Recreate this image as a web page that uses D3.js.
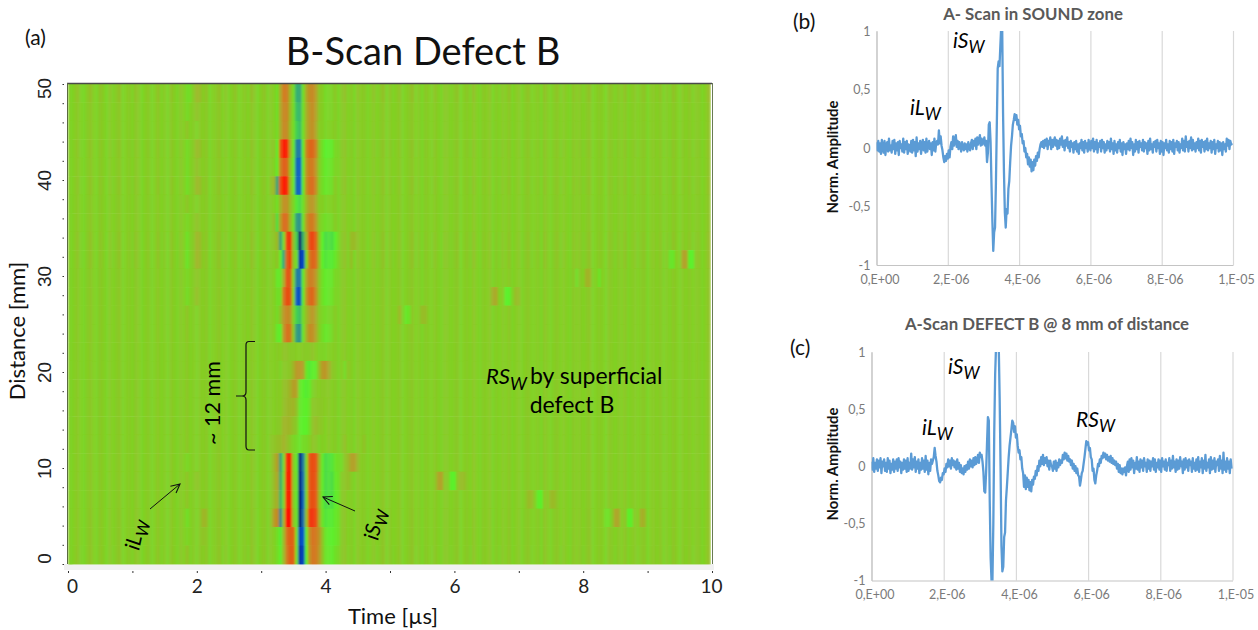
<!DOCTYPE html>
<html>
<head>
<meta charset="utf-8">
<script src="https://d3js.org/d3.v7.min.js"></script>
<style>
	html, body { margin: 0; background: #fff; }
	svg { display: block; font-family: Lato, "Open Sans", sans-serif; }
	.plot-tick text { font-size: 12.5px; fill: #7a7a7a; font-family: Lato, sans-serif; }
	.scan-tick text { font-size: 19px; fill: #222; }
	.scan-tick line { stroke: #333; }
</style>
</head>
<body>
<svg id="fig" width="1258" height="630"></svg>
<script>
'use strict'

// B-scan: 26 rows of 23 amplitudes (x100) around the iSw pulse, top row first
let pulse_times = d3.range(23).map(n => 3.1 + n * 0.05)
let pulse_rows = [
	[0,0,0,-10,20,38,38,12,-8,-40,-42,-12,18,32,32,22,5,0,-5,-5,-2,0,0],
	[0,0,0,-10,20,32,35,12,-8,-35,-38,-12,15,28,30,20,5,0,-4,-4,-2,0,0],
	[0,0,0,-8,18,32,32,10,-8,-30,-35,-12,15,28,28,18,3,0,-3,-3,0,0,0],
	[0,0,5,-18,60,85,82,20,-15,-55,-62,-20,35,50,48,35,5,-10,-18,-18,-14,-5,0],
	[0,0,0,-16,38,52,50,10,-15,-65,-72,-20,28,40,38,25,3,-8,-14,-14,-10,-3,0],
	[0,5,12,-45,65,88,80,15,-15,-65,-72,-20,30,45,45,30,3,-8,-12,-12,-8,0,0],
	[0,0,0,-10,15,28,30,12,-5,-22,-25,-12,12,25,25,15,2,0,-3,-3,0,0,0],
	[0,0,8,-25,25,45,45,15,-10,-45,-50,-15,25,40,38,25,3,-5,-8,-8,-5,0,0],
	[0,0,5,10,-42,-8,65,78,5,-30,-100,-40,10,60,65,50,8,-18,-25,-25,-25,-20,-5],
	[0,0,0,5,-15,-45,50,70,5,-10,-85,-80,-5,40,50,45,10,-18,-22,-22,-20,-14,0],
	[0,0,0,-15,-10,15,58,55,-5,-55,-62,-18,20,38,35,25,5,-10,-14,-15,-12,-5,0],
	[0,0,0,-10,-5,40,62,58,-5,-70,-78,-20,28,48,48,30,5,-10,-14,-14,-10,-3,0],
	[0,0,0,-8,8,25,35,30,-3,-30,-35,-10,10,22,25,15,3,-4,-6,-6,-3,0,0],
	[0,0,0,-15,-15,25,45,42,0,-45,-50,-15,15,32,28,18,2,-8,-12,-12,-5,0,0],
	[0,0,0,0,3,3,5,3,0,0,2,0,2,3,3,0,0,-2,-3,-2,0,0,0],
	[0,0,0,0,0,0,3,5,12,25,28,20,-12,-20,-20,-15,10,25,28,15,5,0,0],
	[0,0,0,0,3,5,8,15,22,20,-10,-20,-20,-15,-5,0,2,3,3,2,0,0,0],
	[0,0,0,0,3,5,10,12,12,5,-12,-18,-18,-10,0,3,5,3,2,0,0,0,0],
	[0,0,0,0,5,10,12,12,5,0,-15,-20,-18,-8,3,8,6,3,0,0,0,0,0],
	[0,3,5,6,10,12,8,3,-5,-8,-10,-8,-5,0,3,3,0,0,0,0,0,0,0],
	[0,0,12,22,-42,-8,75,85,0,-15,-95,-60,-5,55,62,58,15,-15,-25,-25,-22,-12,-5],
	[0,0,10,18,-38,-5,80,85,0,-12,-95,-65,-5,55,60,55,12,-15,-25,-25,-25,-15,-8],
	[0,0,10,15,-35,-5,80,85,0,-15,-98,-70,-5,55,60,55,12,-15,-25,-25,-25,-18,-10],
	[0,3,25,32,-50,10,92,92,5,-12,-100,-65,5,68,72,62,18,-12,-22,-22,-20,-15,-8],
	[0,0,0,-10,-18,8,45,55,48,-10,-80,-75,-15,30,42,40,30,5,-12,-18,-18,-15,-8],
	[0,0,0,-8,-15,8,40,55,50,-10,-85,-82,-18,28,40,40,28,5,-10,-15,-15,-10,-3],
]

// [row, time us, amplitude x100] for the faint echoes away from the pulse
let echoes = [
	[0,1.85,-7],[0,1.9,-6],[0,2,11],[0,2.05,9],[1,1.85,-5],[1,2,6],[3,1.85,-6],[3,2,10],[3,2.05,8],[4,1.85,-7],[4,2,7],
	[5,1.85,-8],[5,2,11],[5,2.05,9],[7,1.85,-4],[7,2,6],[8,1.85,-10],[8,2,12],[8,2.05,10],
	[9,1.85,-11],[9,2,13],[9,2.05,10],[10,1.85,-4],[10,2,5],[11,1.85,-6],[11,2,8],
	[20,1.85,-4],[21,2,5],[23,1.85,-8],[23,2.1,13],[23,2.15,10],[24,1.85,-3],[24,2.1,6],
	[8,4.4,10],[8,4.45,10],[9,4.4,8],[20,4.35,10],[20,4.4,22],[20,4.45,22],[20,4.5,10],[21,4.35,7],
	[9,9.35,-12],[9,9.4,-12],[9,9.55,22],[9,9.6,20],[9,9.65,-18],[9,9.7,-18],
	[10,7.9,-8],[10,8.05,14],[10,8.1,14],[10,8.25,-10],
	[11,6.6,16],[11,6.65,18],[11,6.8,-18],[11,6.85,-18],[11,6.95,9],[11,7,9],
	[12,5.15,12],[12,5.25,-13],[12,5.3,-10],[12,5.5,9],[12,5.55,9],
	[21,5.75,20],[21,5.8,22],[21,5.95,-18],[21,6,-18],[21,6.1,9],[21,6.15,9],
	[22,7.15,10],[22,7.2,10],[22,7.3,-16],[22,7.35,-18],[22,7.5,10],[22,7.55,10],
	[23,8.35,-9],[23,8.4,-9],[23,8.5,20],[23,8.55,18],[23,8.7,-18],[23,8.75,-16],[23,8.9,16],[23,8.95,14],
	[15,4.3,-6],[15,4.35,5],[3,4.5,4],[19,4.3,8],[19,4.6,7],[20,4.2,-8],[20,4.25,-6],
]

// per column streak of the background, 200 columns of 0.05 us (x100)
let streaks = [
	3,-2,1,4,-1,-3,2,5,0,-2,4,1,-3,3,-1,2,5,-2,0,3,
	-1,4,2,-3,1,3,-2,0,5,-1,2,-3,4,1,-2,3,0,6,-1,2,
	-2,3,1,4,-3,0,2,5,-1,3,-2,1,4,-2,0,3,-1,5,2,-3,
	1,4,-2,2,0,3,-3,5,1,-1,3,2,-2,4,0,-1,5,2,-2,1,
	-1,4,0,3,-3,2,5,-1,2,-3,4,1,3,-2,0,4,-1,2,5,-2,
	3,-1,1,4,-2,0,3,5,-1,2,-3,3,1,-1,4,0,-2,3,2,-1,
	2,4,-3,1,3,-1,5,0,-2,3,1,4,-3,2,-1,3,0,5,-2,1,
	3,-2,2,4,-1,0,3,-3,5,1,-2,2,4,-1,3,0,-2,4,1,3,
	-1,2,5,-2,0,3,1,-3,4,2,-1,3,0,5,-2,1,3,-1,2,4,
	-3,1,3,0,4,-2,2,-1,5,1,-2,3,0,4,-1,2,3,-2,1,6,
]
// how strong the streaks come out on each row
let row_gain = [1.5,1,1,1.2,1,1.3,.9,1,1.4,1.4,.9,1,1,1,.8,.8,.9,.9,.9,.9,1,1,1,1.1,1.1,1.2]

// color stops of the B-scan palette, from trough to crest
let amp_stops = [-1, -.75, -.5, -.32, -.18, 0, .2, .45, .7, .92]
let amp_colors = ['#00006e', '#0050d2', '#2a8f8a', '#3cc85a', '#5cf02c',
	'#82d024', '#b0a62a', '#d8701c', '#f03a0c', '#ff1000']

let scan_x_ticks = d3.range(0, 11), scan_y_ticks = d3.range(0, 51, 2)

// A-scans, amplitude x100, one list per microsecond
let sound_trace = [
	[5,-2,6,-3,4,-5,7,0,-4,6,-6,3,5,-3,8,-2,2,-4,6,-1,7,-5,4,-2,5,-6,6,0,3,-3,8,-4,5,-1,6,-5,3,2,-3,6],
	[-4,7,-2,5,-7,9,-3,4,-1,6,-5,3,7,-2,5,-4,8,-3,2,6,-1,4,-6,5,-2,8,-3,4,6,3,15,4,10,2,-2,-8,-12,-7,-11,-5],
	[-9,-2,-8,1,5,-1,10,2,7,11,1,6,-1,5,2,-3,5,0,-2,4,-1,3,-3,5,0,-2,4,7,-1,6,2,8,-1,9,3,7,11,2,8,3],
	[5,9,2,6,-12,-4,20,22,5,-30,-62,-88,-72,-68,-30,20,68,74,70,88,105,105,30,-20,-55,-68,-52,-56,-35,-28,-12,2,10,20,24,29,24,28,20,24],
	[16,19,10,12,4,6,-3,0,-8,-5,-14,-8,-16,-10,-20,-12,-19,-10,-15,-7,-11,-4,-8,-1,3,5,1,6,0,7,2,8,-1,6,3,9,-1,7,1,6],
	[9,2,7,-1,6,0,8,3,10,1,6,-2,7,2,9,0,5,-3,6,1,4,-4,5,-1,6,-3,3,-5,4,0,7,-2,5,-4,6,0,4,-3,7,1],
	[-2,6,0,8,-3,5,-1,7,-4,4,1,6,-3,7,0,5,-4,3,-2,6,0,5,-3,8,-1,4,-5,6,-2,3,-4,5,0,7,-3,4,-6,5,-1,3],
	[-5,4,-1,6,-2,8,0,5,-6,3,-3,7,-1,5,-4,6,1,4,-2,7,-3,5,0,4,-5,6,-2,8,-1,3,-4,5,1,6,-3,7,0,4,-5,6],
	[-3,5,-6,4,0,7,-2,3,-4,6,-1,5,-3,7,-5,4,1,6,-2,5,-4,3,0,8,-2,6,-3,10,1,5,-3,6,0,9,-2,7,-1,4,-3,5],
	[0,8,-2,6,-4,7,1,5,-3,6,-1,8,-2,4,0,6,-4,5,-1,7,-5,3,0,6,-3,5,-2,4,-6,5,-1,3,-3,8,2,7,-1,6,3,4],
]
let defect_trace = [
	[4,-3,7,-5,3,-2,6,-4,5,-1,7,-6,4,0,6,-4,3,-5,7,-2,5,-6,2,-3,6,-5,4,-2,6,-4,7,-1,4,-6,3,-3,6,-2,5,-5],
	[7,-4,3,-2,11,-3,6,-1,8,-5,4,-2,6,-6,3,-3,7,-2,5,-5,9,-3,5,-7,3,-4,6,2,5,8,16,9,4,-4,-8,-13,-14,-10,-12,-6],
	[-7,-2,-5,2,-1,6,0,5,-2,7,1,5,-1,4,-3,6,-2,3,-5,1,-6,-2,-7,0,-5,1,-3,4,-2,6,0,5,-1,7,1,8,2,5,10,3],
	[12,8,10,4,-5,-22,-23,-5,20,43,40,-30,-80,-100,-100,-50,30,80,105,110,110,105,60,0,-70,-92,-88,-62,-58,-30,-18,-5,8,18,25,32,40,38,30,35],
	[25,28,18,12,14,6,8,-2,-6,-18,-8,-20,-10,-18,-12,-21,-14,-22,-12,-16,-9,-11,-4,-8,0,-4,5,0,8,2,10,1,7,3,8,0,5,-3,5,1],
	[0,-4,4,-2,5,-4,3,-1,6,1,5,3,10,6,12,7,11,5,9,4,6,1,5,-2,2,-4,0,-6,-2,-8,-9,-17,-12,-6,-4,2,8,15,22,19],
	[21,14,16,8,6,-4,-2,-12,-15,-8,-4,2,0,6,3,9,7,12,8,11,6,10,5,8,4,9,3,7,2,5,1,4,-2,2,-5,1,-6,-2,-7,-2],
	[-5,-1,-8,0,4,-5,6,-3,7,-1,5,-6,3,-2,8,-3,4,-5,6,-1,5,-4,7,0,3,-5,6,-2,5,-4,4,0,7,-3,6,-5,3,-1,6,-3],
	[5,-5,7,0,4,-3,6,-4,3,1,7,-4,5,-2,9,-1,4,-5,6,-3,5,-2,8,0,4,-6,6,-3,7,-1,5,-4,6,1,4,-5,7,-2,3,-4],
	[6,-3,8,-5,4,-1,7,-6,5,-2,10,-4,3,-1,6,-6,8,-3,5,-2,7,-5,4,1,6,-4,9,-2,5,-6,12,-3,4,-5,7,-2,4,-6,6,-2],
]

let amp_ticks = [-1, -.5, 0, .5, 1], amp_labels = ['-1', '-0,5', '0', '0,5', '1']
let time_ticks = [0, 2, 4, 6, 8, 10], time_labels = ['0,E+00', '2,E-06', '4,E-06', '6,E-06', '8,E-06', '1,E-05']


let svg = d3.select('#fig')
let defs = svg.append('defs')
defs.append('filter').attr('id', 'soft')
		.attr('x', 0).attr('y', 0).attr('width', 1).attr('height', 1)
	.append('feGaussianBlur').attr('stdDeviation', '0.9 0.25')

// text with a subscript, as the hand placed labels of the figure
let sub_label = (s, x, y, main, sub, size=21, rot=0) => s.append('text')
	.attr('transform', `translate(${x} ${y}) rotate(${rot})`)
	.attr('font-size', size).attr('font-style', 'italic').attr('fill', '#000')
	.call(t => t.append('tspan').text(main))
	.call(t => t.append('tspan').attr('dy', size * .25).attr('font-size', size * .8).text(sub))


// B-scan panel

let x = d3.scaleLinear().domain([0, 10]).range([68, 712]),
	y = d3.scaleLinear().domain([0, 50]).range([564, 84]),
	rows = d3.scaleBand().domain(d3.range(pulse_rows.length)).range([84, 564]),
	amp_color = d3.scaleLinear().domain(amp_stops).range(amp_colors).clamp(true)

let cells = d3.range(pulse_rows.length).flatMap(r => streaks.map((st, n) => {
	let t = n * 0.05, k = Math.round((t - pulse_times[0]) / 0.05), v = st * row_gain[r]
	if (k >= 0 && k < pulse_times.length && pulse_rows[r][k]) v = pulse_rows[r][k] + st * .5
	return {r, t, v} }))
let cell_at = new Map(cells.map(d => [`${d.r}_${Math.round(d.t * 20)}`, d]))
echoes.forEach(([r, t, v]) => cell_at.get(`${r}_${Math.round(t * 20)}`).v = v)

svg.append('rect').attr('x', 64).attr('y', 564).attr('width', 650).attr('height', 6).attr('fill', '#f1f1f1')

// cells are centered on their time
svg.append('g').attr('filter', 'url(#soft)').selectAll('rect').data(cells).join('rect')
	.attr('x', d => x(Math.max(d.t - 0.025, 0))).attr('width', x(0.05) - x(0) + .4)
	.attr('y', d => rows(d.r)).attr('height', rows.bandwidth() + .4)
	.attr('fill', d => amp_color(d.v / 100))

svg.append('line').attr('x1', 67).attr('x2', 712).attr('y1', 83.5).attr('y2', 83.5)
	.attr('stroke', '#4a4a4a').attr('stroke-width', 1.5)
svg.append('line').attr('x1', 67.5).attr('x2', 67.5).attr('y1', 83).attr('y2', 564)
	.attr('stroke', '#5a6a40').attr('stroke-width', 1)
svg.append('line').attr('x1', 712.5).attr('x2', 712.5).attr('y1', 83).attr('y2', 564)
	.attr('stroke', '#6a7a55').attr('stroke-width', 1)

svg.append('g').attr('class', 'scan-tick').attr('transform', 'translate(0 571)')
	.call(d3.axisBottom(x).tickValues(scan_x_ticks).tickSize(2).tickPadding(7)
		.tickFormat(d => d % 2 ? '' : d))
	.call(s => s.select('.domain').remove())
	.call(s => s.selectAll('.tick text').attr('font-family', 'Lato')
		.attr('dx', d => d == 0 ? 4 : d == 10 ? -1 : 0))

svg.append('g').attr('class', 'scan-tick').attr('transform', 'translate(64 0)')
	.call(d3.axisLeft(y).tickValues(scan_y_ticks).tickSize(1.5).tickPadding(11)
		.tickFormat(d => d % 10 ? '' : d))
	.call(s => s.select('.domain').remove())
	.call(s => s.selectAll('.tick text').attr('text-anchor', 'middle').attr('dy', 0)
		.attr('transform', d => `translate(-18 ${d == 0 ? -6 : d == 50 ? 4 : 0}) rotate(-90)`)
		.attr('x', 0).attr('y', 0).attr('dominant-baseline', 'middle'))

svg.append('text').attr('x', 423).attr('y', 65).attr('text-anchor', 'middle')
	.attr('font-size', 38).attr('fill', '#111').text('B-Scan Defect B')
svg.append('text').attr('x', 393).attr('y', 624).attr('text-anchor', 'middle')
	.attr('font-size', 22).attr('fill', '#111').text('Time [µs]')
svg.append('text').attr('transform', 'translate(25 331) rotate(-90)').attr('text-anchor', 'middle')
	.attr('font-size', 22).attr('fill', '#111').text('Distance [mm]')
svg.append('text').attr('x', 25).attr('y', 45).attr('font-size', 21).attr('fill', '#111').text('(a)')

// brace over the missing iSw rows
svg.append('path').attr('fill', 'none').attr('stroke', '#111').attr('stroke-width', 1.2)
	.attr('d', 'M255 341.5 H249 Q246 341.5 246 345 V392 Q246 396 242 396 H236 M242 396 Q246 396 246 400 V446 Q246 450 249 450 H255')
svg.append('text').attr('transform', 'translate(220 403) rotate(-90)').attr('text-anchor', 'middle')
	.attr('font-size', 21.5).attr('fill', '#000').text('~ 12 mm')

defs.append('marker').attr('id', 'head').attr('viewBox', '0 0 10 10').attr('refX', 9).attr('refY', 5)
		.attr('markerWidth', 11).attr('markerHeight', 11).attr('orient', 'auto').attr('markerUnits', 'userSpaceOnUse')
	.append('path').attr('d', 'M1 1 L9 5 L1 9').attr('fill', 'none').attr('stroke', '#111').attr('stroke-width', 1)
let arrow = (x1, y1, x2, y2) => svg.append('line').attr('x1', x1).attr('y1', y1).attr('x2', x2).attr('y2', y2)
	.attr('stroke', '#111').attr('stroke-width', 1).attr('marker-end', 'url(#head)')
arrow(150, 509, 180, 484)
arrow(355, 511, 323, 497)

sub_label(svg, 139, 551, 'iL', 'W', 21, -78)
sub_label(svg, 378, 541, 'iS', 'W', 21, -78)

sub_label(svg, 486, 384, 'RS', 'W', 22)
svg.append('text').attr('x', 530).attr('y', 384).attr('font-size', 23).attr('fill', '#000').text('by superficial')
svg.append('text').attr('x', 572).attr('y', 413).attr('text-anchor', 'middle')
	.attr('font-size', 23).attr('fill', '#000').text('defect B')


// A-scan panels

let a_scan = ({trace, left, right, top, bottom, title, title_x, title_y, ylab_x, ylab_y}) => {
	let ax = d3.scaleLinear().domain([0, 10]).range([left, right]),
		ay = d3.scaleLinear().domain([-1, 1]).range([bottom, top]),
		g = svg.append('g'),
		clip = `clip_${left}`,
		points = trace.flatMap((vals, us) => vals.map((v, n) => [us + n / vals.length, v / 100]))

	defs.append('clipPath').attr('id', clip).append('rect')
		.attr('x', left).attr('y', top).attr('width', right - left + 2).attr('height', bottom - top)

	g.append('g').attr('transform', `translate(0 ${top})`)
		.call(d3.axisBottom(ax).tickValues(time_ticks).tickSize(bottom - top).tickFormat(''))
		.call(s => s.select('.domain').remove())
		.call(s => s.selectAll('line').attr('stroke', '#d9d9d9').attr('stroke-width', 1.2))

	g.append('g').attr('class', 'plot-tick').attr('transform', `translate(0 ${bottom})`)
		.call(d3.axisBottom(ax).tickValues(time_ticks).tickSize(0).tickPadding(10)
			.tickFormat((d, n) => time_labels[n]))
		.call(s => s.select('.domain').attr('stroke', '#c4c4c4').attr('stroke-width', 1.2))
		.call(s => s.selectAll('.tick text').attr('dx', 3))

	g.append('g').attr('class', 'plot-tick').attr('transform', `translate(${left} 0)`)
		.call(d3.axisLeft(ay).tickValues(amp_ticks).tickSize(0).tickPadding(6)
			.tickFormat((d, n) => amp_labels[n]))
		.call(s => s.select('.domain').attr('stroke', '#c4c4c4').attr('stroke-width', 1.2))

	g.append('path').datum(points).attr('clip-path', `url(#${clip})`)
		.attr('fill', 'none').attr('stroke', '#5b9bd5').attr('stroke-width', 2.3)
		.attr('stroke-linejoin', 'round')
		.attr('d', d3.line().x(d => ax(d[0])).y(d => ay(d[1])))

	g.append('text').attr('x', title_x).attr('y', title_y).attr('text-anchor', 'middle')
		.attr('font-size', 16.8).attr('font-weight', 700).attr('fill', '#595959').text(title)
	g.append('text').attr('transform', `translate(${ylab_x} ${ylab_y}) rotate(-90)`)
		.attr('text-anchor', 'middle').attr('font-size', 14.8).attr('font-weight', 700)
		.attr('fill', '#111').text('Norm. Amplitude')
}

a_scan({trace: sound_trace, left: 876.5, right: 1233, top: 31, bottom: 265,
	title: 'A- Scan in SOUND zone', title_x: 1033, title_y: 20, ylab_x: 838, ylab_y: 157})
a_scan({trace: defect_trace, left: 871.5, right: 1232.5, top: 352, bottom: 580.5,
	title: 'A-Scan DEFECT B @ 8 mm of distance', title_x: 1047, title_y: 330, ylab_x: 838, ylab_y: 464})

svg.append('text').attr('x', 793).attr('y', 29).attr('font-size', 21).attr('fill', '#111').text('(b)')
svg.append('text').attr('x', 790).attr('y', 355).attr('font-size', 21).attr('fill', '#111').text('(c)')

sub_label(svg, 953, 48, 'iS', 'W')
sub_label(svg, 910, 115, 'iL', 'W')
sub_label(svg, 948, 374, 'iS', 'W')
sub_label(svg, 922, 435, 'iL', 'W')
sub_label(svg, 1076, 427, 'RS', 'W')
</script>
</body>
</html>
